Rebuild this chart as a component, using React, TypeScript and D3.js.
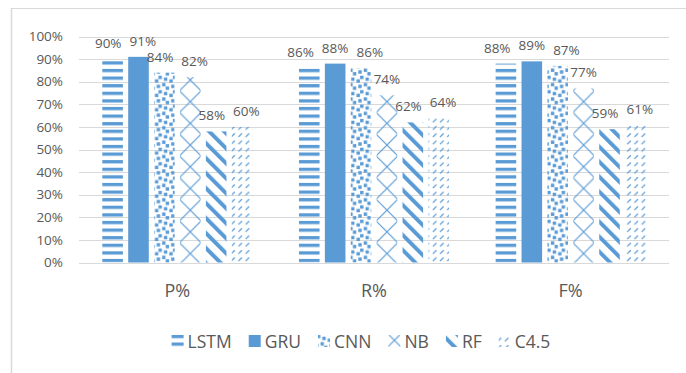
import React, { useEffect, useRef } from "react";
import * as d3 from "d3";

const categories = ["P%", "R%", "F%"];
const seriesNames = ["LSTM", "GRU", "CNN", "NB", "RF", "C4.5"];
const lstmValues = [90, 86, 88];
const gruValues = [91, 88, 89];
const cnnValues = [84, 86, 87];
const nbValues = [82, 74, 77];
const rfValues = [58, 62, 59];
const c45Values = [60, 64, 61];
const yTicks = [0, 10, 20, 30, 40, 50, 60, 70, 80, 90, 100];

const seriesValues = [lstmValues, gruValues, cnnValues, nbValues, rfValues, c45Values];

const W = 686;
const H = 373;
const BLUE = "#5b9bd5";
const TEXT = "#595959";
const GRID = "#d9d9d9";
const FONT = "'Open Sans', 'Noto Sans', sans-serif";

export default function App() {
  const ref = useRef<SVGSVGElement>(null);

  useEffect(() => {
    const svg = d3.select(ref.current);
    svg.selectAll("*").remove();

    const left = 79, right = 669, top = 36.5, bottom = 262.5;
    const x0 = d3.scaleBand<string>().domain(categories).range([left, right]).paddingInner(0).paddingOuter(0);
    const x1 = d3.scaleBand<string>().domain(seriesNames).range([0, x0.bandwidth()]).paddingInner(0.205).paddingOuter(0.9);
    const y = d3.scaleLinear().domain([0, 100]).range([bottom, top]);

    const defs = svg.append("defs");

    // LSTM horizontal stripes
    const pL = defs.append("pattern").attr("id", "pat-LSTM").attr("patternUnits", "userSpaceOnUse")
      .attr("width", 8).attr("height", 7.6).attr("y", 0.5);
    pL.append("rect").attr("x", 0).attr("y", 0).attr("width", 8).attr("height", 3.3).attr("fill", BLUE);

    // CNN large confetti
    const s = 1.8;
    const pC = defs.append("pattern").attr("id", "pat-CNN").attr("patternUnits", "userSpaceOnUse")
      .attr("width", 8 * s).attr("height", 8 * s);
    const blocks = [[7, 7], [4, 0], [0, 2], [3, 3], [6, 4], [2, 6]];
    blocks.forEach(([c, r]) => {
      [[0, 0], [-8, 0], [0, -8], [-8, -8]].forEach(([dx, dy]) => {
        pC.append("rect").attr("x", (c + dx) * s + 0.1).attr("y", (r + dy) * s + 0.1)
          .attr("width", 3.4).attr("height", 3.4).attr("fill", BLUE);
      });
    });

    // RF wide downward diagonal
    const pR = defs.append("pattern").attr("id", "pat-RF").attr("patternUnits", "userSpaceOnUse")
      .attr("width", 10.6).attr("height", 10.6).attr("patternTransform", "rotate(-45)");
    pR.append("rect").attr("x", 0).attr("y", 0).attr("width", 4).attr("height", 10.6).attr("fill", BLUE);

    // C4.5 dashed upward diagonal
    const pD = defs.append("pattern").attr("id", "pat-C45").attr("patternUnits", "userSpaceOnUse")
      .attr("width", 7.2).attr("height", 7.3);
    pD.append("line").attr("x1", 0.8).attr("y1", 5.6).attr("x2", 4.4).attr("y2", 2)
      .attr("stroke", BLUE).attr("stroke-width", 1.25);

    const nbPattern = (id: string, cx: number) => {
      const T = 21.7;
      const p = defs.append("pattern").attr("id", id).attr("patternUnits", "userSpaceOnUse")
        .attr("width", T).attr("height", T).attr("x", cx - T / 2).attr("y", 4);
      p.append("path").attr("d", `M0,0L${T},${T}M${T},0L0,${T}M-1,${T - 1}L1,${T + 1}M${T - 1},-1L${T + 1},1M-1,1L1,-1M${T - 1},${T + 1}L${T + 1},${T - 1}`)
        .attr("stroke", BLUE).attr("stroke-width", 1.2).attr("fill", "none");
    };

    const fillFor = (name: string, id?: string) => {
      if (name === "GRU") return BLUE;
      if (name === "LSTM") return "url(#pat-LSTM)";
      if (name === "CNN") return "url(#pat-CNN)";
      if (name === "RF") return "url(#pat-RF)";
      if (name === "C4.5") return "url(#pat-C45)";
      return `url(#${id})`;
    };

    // frame
    svg.append("line").attr("x1", 11).attr("x2", W).attr("y1", 8.5).attr("y2", 8.5).attr("stroke", GRID).attr("stroke-width", 1.2);
    svg.append("line").attr("x1", 11.5).attr("x2", 11.5).attr("y1", 8).attr("y2", H).attr("stroke", GRID).attr("stroke-width", 1.5);

    // gridlines
    svg.append("g").selectAll("line").data(yTicks).join("line")
      .attr("x1", left).attr("x2", right)
      .attr("y1", (d) => Math.round(y(d)) + 0.5).attr("y2", (d) => Math.round(y(d)) + 0.5)
      .attr("stroke", GRID).attr("stroke-width", 1);

    // y tick labels
    svg.append("g").selectAll("text").data(yTicks).join("text")
      .attr("x", 63).attr("y", (d) => y(d)).attr("dy", "0.35em")
      .attr("text-anchor", "end").attr("font-family", FONT).attr("font-size", 13.5).attr("fill", TEXT)
      .text((d) => `${d}%`);

    // bars
    const barsG = svg.append("g");
    const labelsG = svg.append("g");
    categories.forEach((cat, ci) => {
      const labs: { t: any; cx: number; by: number; w: number }[] = [];
      seriesNames.forEach((name, si) => {
        const v = seriesValues[si][ci];
        const bx = (x0(cat) as number) + (x1(name) as number);
        const bw = x1.bandwidth();
        let id: string | undefined;
        if (name === "NB") {
          id = `pat-NB-${ci}`;
          nbPattern(id, bx + bw / 2);
        }
        barsG.append("rect").attr("x", bx).attr("y", y(v)).attr("width", bw).attr("height", y(0) - y(v))
          .attr("fill", fillFor(name, id));
        const t = labelsG.append("text").attr("y", y(v) - 11)
          .attr("text-anchor", "middle").attr("font-family", FONT).attr("font-size", 13.5).attr("fill", TEXT)
          .text(`${v}%`);
        const w = (t.node() as SVGTextElement).getComputedTextLength() + 8;
        labs.push({ t, cx: bx + bw / 2, by: y(v) - 11, w });
      });
      // simple overlap relaxation (horizontal)
      for (let it = 0; it < 60; it++) {
        for (let i = 0; i < labs.length - 1; i++) {
          const a = labs[i], b = labs[i + 1];
          const vOverlap = Math.abs(a.by - b.by) < 10;
          const need = (a.w + b.w) / 2 - (b.cx - a.cx);
          if (vOverlap && need > 0) {
            a.cx -= need / 2;
            b.cx += need / 2;
          }
        }
      }
      labs.forEach((l) => l.t.attr("x", l.cx));
    });

    // category labels
    svg.append("g").selectAll("text").data(categories).join("text")
      .attr("x", (d) => (x0(d) as number) + x0.bandwidth() / 2).attr("y", 296.5)
      .attr("text-anchor", "middle").attr("font-family", FONT).attr("font-size", 18).attr("fill", TEXT)
      .text((d) => d);

    // legend
    const legG = svg.append("g");
    const sw = 12, gapT = 4, gapI = 17;
    const items = seriesNames.map((name) => {
      const g = legG.append("g");
      const t = g.append("text").attr("font-family", FONT).attr("font-size", 17.5).attr("fill", TEXT).attr("y", 347.5).text(name);
      const w = (t.node() as SVGTextElement).getComputedTextLength();
      return { name, g, t, w };
    });
    const total = items.reduce((a, it) => a + sw + gapT + it.w, 0) + gapI * (items.length - 1);
    let cx = 361 - total / 2;
    items.forEach((it) => {
      let id: string | undefined;
      if (it.name === "NB") {
        id = "pat-NB-legend";
        nbPattern(id, cx + sw / 2);
      }
      it.g.insert("rect", "text").attr("x", cx).attr("y", 335).attr("width", sw).attr("height", sw).attr("fill", fillFor(it.name, id));
      it.t.attr("x", cx + sw + gapT);
      cx += sw + gapT + it.w + gapI;
    });
  }, []);

  return (
    <div style={{ position: "absolute", left: 0, top: 0 }}>
      <svg ref={ref} width={W} height={H} style={{ display: "block", background: "#fff" }} />
    </div>
  );
}
